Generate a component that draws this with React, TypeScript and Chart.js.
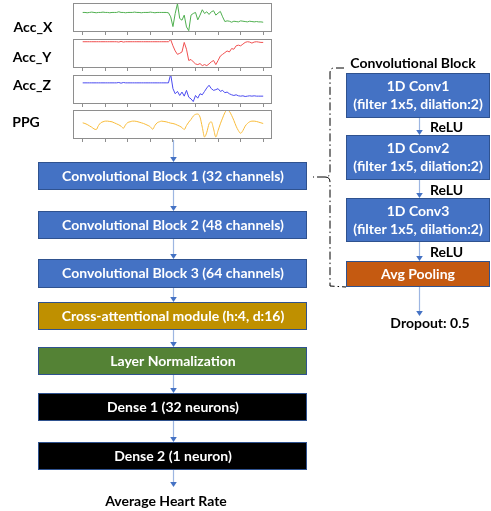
import React, { useEffect, useRef } from 'react';
import { Chart, registerables } from 'chart.js';
Chart.register(...registerables);

// ---------- data ----------
const signalNames = ['Acc_X', 'Acc_Y', 'Acc_Z', 'PPG'];
const signalColors = ['#4FAF4F', '#F05050', '#4B4BF0', '#F9BC3A'];

const accX = [
  58, 58, 57, 58, 59, 58, 57, 58, 58, 59, 58, 58, 57, 58, 58, 58, 60, 58, 58, 57,
  58, 58, 58, 59, 58, 58, 57, 58, 58, 58, 59, 58, 57, 58, 58, 58, 58, 58, 57,
  45, 16, 55, 84, 40, 35, 50, 15, 4, 50, 55, 58, 36, 50, 66, 55, 60, 52, 60, 63,
  50, 56, 61, 45, 31, 33, 32, 29, 32, 31, 30, 33, 32, 31, 30, 32, 31, 30, 31, 30, 30, 29,
];
const accY = [
  77, 77, 77, 77, 77, 77, 77, 77, 77, 77, 77, 77, 77, 77, 77, 77, 76, 78, 76, 77,
  77, 77, 77, 77, 77, 77, 77, 77, 77, 77, 77, 77, 77, 77, 77, 77, 77, 77, 77,
  83, 65, 50, 40, 43, 47, 75, 55, 22, 25, 18, 12, 10, 13, 7, 10, 7, 12, 18, 22,
  10, 22, 35, 40, 45, 50, 47, 57, 55, 65, 67, 65, 70, 75, 77, 76, 73, 76, 77, 76, 75, 75,
];
const accZ = [
  62, 62, 62, 62, 62, 62, 62, 62, 62, 62, 62, 62, 62, 62, 62, 62, 63, 61, 63, 62,
  62, 62, 62, 62, 62, 62, 62, 62, 62, 62, 62, 62, 62, 62, 62, 62, 62, 62, 62,
  87, 45, 30, 37, 25, 35, 23, 40, 20, 15, 7, 25, 17, 30, 27, 37, 47, 55, 45, 40,
  42, 45, 37, 40, 33, 35, 30, 27, 25, 27, 24, 23, 24, 22, 23, 24, 23, 24, 23, 23, 23, 23,
];
const ppg = [
  48, 46, 43, 39, 35, 30, 28, 40, 48, 51, 53, 53, 52, 51, 48, 45, 42, 38, 32, 42,
  49, 51, 53, 53, 52, 50, 48, 46, 43, 40, 36, 29, 40, 48, 51, 53, 52, 51, 49, 47,
  46, 44, 41, 38, 34, 28, 40, 50, 58, 68, 73, 74, 65, 35, 6, 20, 45, 51, 30, 6,
  25, 45, 62, 78, 86, 82, 70, 55, 38, 25, 17, 25, 38, 46, 51, 53, 53, 52, 50, 48, 46,
];
const signals = [accX, accY, accZ, ppg];
const signalSmooth = [false, false, false, true];
const signalMax = [86, 85, 85, 86];

const mainLabels = [
  'Convolutional Block 1 (32 channels)',
  'Convolutional Block 2 (48 channels)',
  'Convolutional Block 3 (64 channels)',
  'Cross-attentional module (h:4, d:16)',
  'Layer Normalization',
  'Dense 1 (32 neurons)',
  'Dense 2 (1 neuron)',
];
const mainColors = ['#4472C4', '#4472C4', '#4472C4', '#BF9000', '#548235', '#000000', '#000000'];
const outputLabel = 'Average Heart Rate';

const blockTitle = 'Convolutional Block';
const convTitles = ['1D Conv1', '1D Conv2', '1D Conv3'];
const convDetail = '(filter 1x5, dilation:2)';
const poolLabel = 'Avg Pooling';
const activation = 'ReLU';
const dropoutLabel = 'Dropout: 0.5';

// ---------- layout (diagram units = page pixels) ----------
const W = 491;
const H = 511;
const panelTops = [3, 39, 75, 110];
const panelLeft = 73;
const panelW = 199;
const panelH = 29;
const labelPos = [
  [33, 27],
  [32, 57],
  [32, 85],
  [26, 122],
];
const mainX = [38, 307];
const mainY = [
  [162, 190],
  [211, 239],
  [259, 288],
  [302, 330],
  [347, 375],
  [393, 421],
  [442, 470],
];
const axisX = 173;
const sideX = [346, 490];
const sideY = [
  [73, 118],
  [135, 180],
  [198, 242],
  [261, 287],
];
const sideAxis = 419;
const FONT = 'Lato, "Open Sans", sans-serif';

const diagramPlugin = {
  id: 'diagram',
  afterDraw(chart: any) {
    const { ctx } = chart;
    const sx = chart.scales.x;
    const sy = chart.scales.y;
    const X = (v: number) => sx.getPixelForValue(v);
    const Y = (v: number) => sy.getPixelForValue(v);

    const box = (x0: number, x1: number, y0: number, y1: number, fill: string) => {
      ctx.save();
      ctx.fillStyle = fill;
      ctx.fillRect(X(x0), Y(y0), X(x1) - X(x0), Y(y1) - Y(y0));
      ctx.strokeStyle = '#2F528F';
      ctx.lineWidth = 1;
      ctx.strokeRect(X(x0) + 0.5, Y(y0) + 0.5, X(x1) - X(x0) - 1, Y(y1) - Y(y0) - 1);
      ctx.restore();
    };
    const text = (s: string, cx: number, cy: number, color: string, size: number, align: CanvasTextAlign = 'center') => {
      ctx.save();
      ctx.fillStyle = color;
      ctx.font = `bold ${size}px ${FONT}`;
      ctx.textAlign = align;
      ctx.textBaseline = 'middle';
      ctx.fillText(s, X(cx), Y(cy));
      ctx.restore();
    };
    const arrow = (cx: number, y0: number, y1: number) => {
      ctx.save();
      ctx.strokeStyle = '#9DB6E2';
      ctx.lineWidth = 1.2;
      ctx.beginPath();
      ctx.moveTo(X(cx) + 0.5, Y(y0));
      ctx.lineTo(X(cx) + 0.5, Y(y1) - 4);
      ctx.stroke();
      ctx.fillStyle = '#4472C4';
      ctx.beginPath();
      ctx.moveTo(X(cx) + 0.5, Y(y1));
      ctx.lineTo(X(cx) - 2.8, Y(y1) - 5);
      ctx.lineTo(X(cx) + 3.8, Y(y1) - 5);
      ctx.closePath();
      ctx.fill();
      ctx.restore();
    };

    // signal labels
    signalNames.forEach((n, i) => text(n, labelPos[i][0], labelPos[i][1], '#000', 14));

    // main column
    arrow(axisX, 140, mainY[0][0]);
    mainLabels.forEach((lab, i) => {
      box(mainX[0], mainX[1], mainY[i][0], mainY[i][1], mainColors[i]);
      text(lab, (mainX[0] + mainX[1]) / 2 + 0.5, (mainY[i][0] + mainY[i][1]) / 2, '#fff', 14);
      const next = i + 1 < mainY.length ? mainY[i + 1][0] : 487;
      arrow(axisX, mainY[i][1], next);
    });
    text(outputLabel, 166, 501, '#000', 14);

    // side column
    text(blockTitle, 413, 63, '#000', 14);
    convTitles.forEach((t, i) => {
      box(sideX[0], sideX[1], sideY[i][0], sideY[i][1], '#4472C4');
      const mid = (sideY[i][0] + sideY[i][1]) / 2;
      text(t, 418, mid - 9, '#fff', 14);
      text(convDetail, 418, mid + 9, '#fff', 14);
      arrow(sideAxis, sideY[i][1], sideY[i + 1][0]);
      text(activation, 430, (sideY[i][1] + sideY[i + 1][0]) / 2 + 1, '#000', 14, 'left');
    });
    box(sideX[0], sideX[1], sideY[3][0], sideY[3][1], '#C55A11');
    text(poolLabel, 418, (sideY[3][0] + sideY[3][1]) / 2, '#fff', 14);
    arrow(sideAxis, sideY[3][1], 316);
    text(dropoutLabel, 430, 323, '#000', 14);

    // bracket
    ctx.save();
    ctx.strokeStyle = '#000';
    ctx.lineWidth = 1;
    ctx.setLineDash([8, 3, 1.5, 3]);
    ctx.beginPath();
    ctx.moveTo(X(344), Y(68));
    ctx.lineTo(X(334), Y(68));
    ctx.quadraticCurveTo(X(330), Y(68), X(330), Y(73));
    ctx.lineTo(X(330), Y(172));
    ctx.quadraticCurveTo(X(330), Y(177), X(325), Y(177));
    ctx.lineTo(X(313), Y(177));
    ctx.moveTo(X(325), Y(177));
    ctx.quadraticCurveTo(X(330), Y(177), X(330), Y(182));
    ctx.lineTo(X(330), Y(286));
    ctx.lineTo(X(346), Y(287));
    ctx.stroke();
    ctx.restore();
  },
};

const panelPlugin = {
  id: 'panelBox',
  afterDraw(chart: any) {
    const { ctx, chartArea: a } = chart;
    ctx.save();
    ctx.strokeStyle = '#8E8E8E';
    ctx.lineWidth = 1;
    ctx.strokeRect(a.left + 0.5, a.top + 0.5, a.right - a.left - 1, a.bottom - a.top - 1);
    ctx.restore();
  },
};

function SignalPanel({ idx }: { idx: number }) {
  const ref = useRef<HTMLCanvasElement>(null);
  useEffect(() => {
    const chart = new Chart(ref.current as HTMLCanvasElement, {
      type: 'line',
      data: {
        datasets: [
          {
            data: signals[idx].map((v, i) => ({ x: i, y: v })),
            borderColor: signalColors[idx],
            borderWidth: 1,
            pointRadius: 0,
            cubicInterpolationMode: signalSmooth[idx] ? 'monotone' : 'default',
            tension: 0,
          },
        ],
      },
      options: {
        animation: false,
        responsive: false,
        events: [],
        layout: { padding: 0 },
        plugins: { legend: { display: false }, tooltip: { enabled: false } },
        scales: {
          x: {
            type: 'linear',
            min: -4.3,
            max: 83.9,
            ticks: { display: false, stepSize: 10, includeBounds: false, autoSkip: false },
            grid: { drawOnChartArea: false, drawTicks: true, tickLength: 3, color: '#8E8E8E' },
            border: { display: false },
          },
          y: { display: false, min: 0, max: signalMax[idx] },
        },
      },
      plugins: [panelPlugin],
    } as any);
    return () => chart.destroy();
  }, [idx]);
  return (
    <canvas
      ref={ref}
      width={panelW}
      height={panelH + 3}
      style={{ position: 'absolute', left: panelLeft, top: panelTops[idx], width: panelW, height: panelH + 3 }}
    />
  );
}

export default function App() {
  const ref = useRef<HTMLCanvasElement>(null);
  useEffect(() => {
    document.body.style.margin = '0';
    const chart = new Chart(ref.current as HTMLCanvasElement, {
      type: 'scatter',
      data: { datasets: [{ data: [] }] },
      options: {
        animation: false,
        responsive: false,
        events: [],
        layout: { padding: 0 },
        plugins: { legend: { display: false }, tooltip: { enabled: false } },
        scales: {
          x: { type: 'linear', display: false, min: 0, max: W },
          y: { type: 'linear', display: false, min: 0, max: H, reverse: true },
        },
      },
      plugins: [diagramPlugin],
    } as any);
    return () => chart.destroy();
  }, []);
  return (
    <div style={{ position: 'relative', width: W, height: H, background: '#fff' }}>
      <canvas ref={ref} width={W} height={H} style={{ position: 'absolute', left: 0, top: 0, width: W, height: H }} />
      {signals.map((_, i) => (
        <SignalPanel key={i} idx={i} />
      ))}
    </div>
  );
}
